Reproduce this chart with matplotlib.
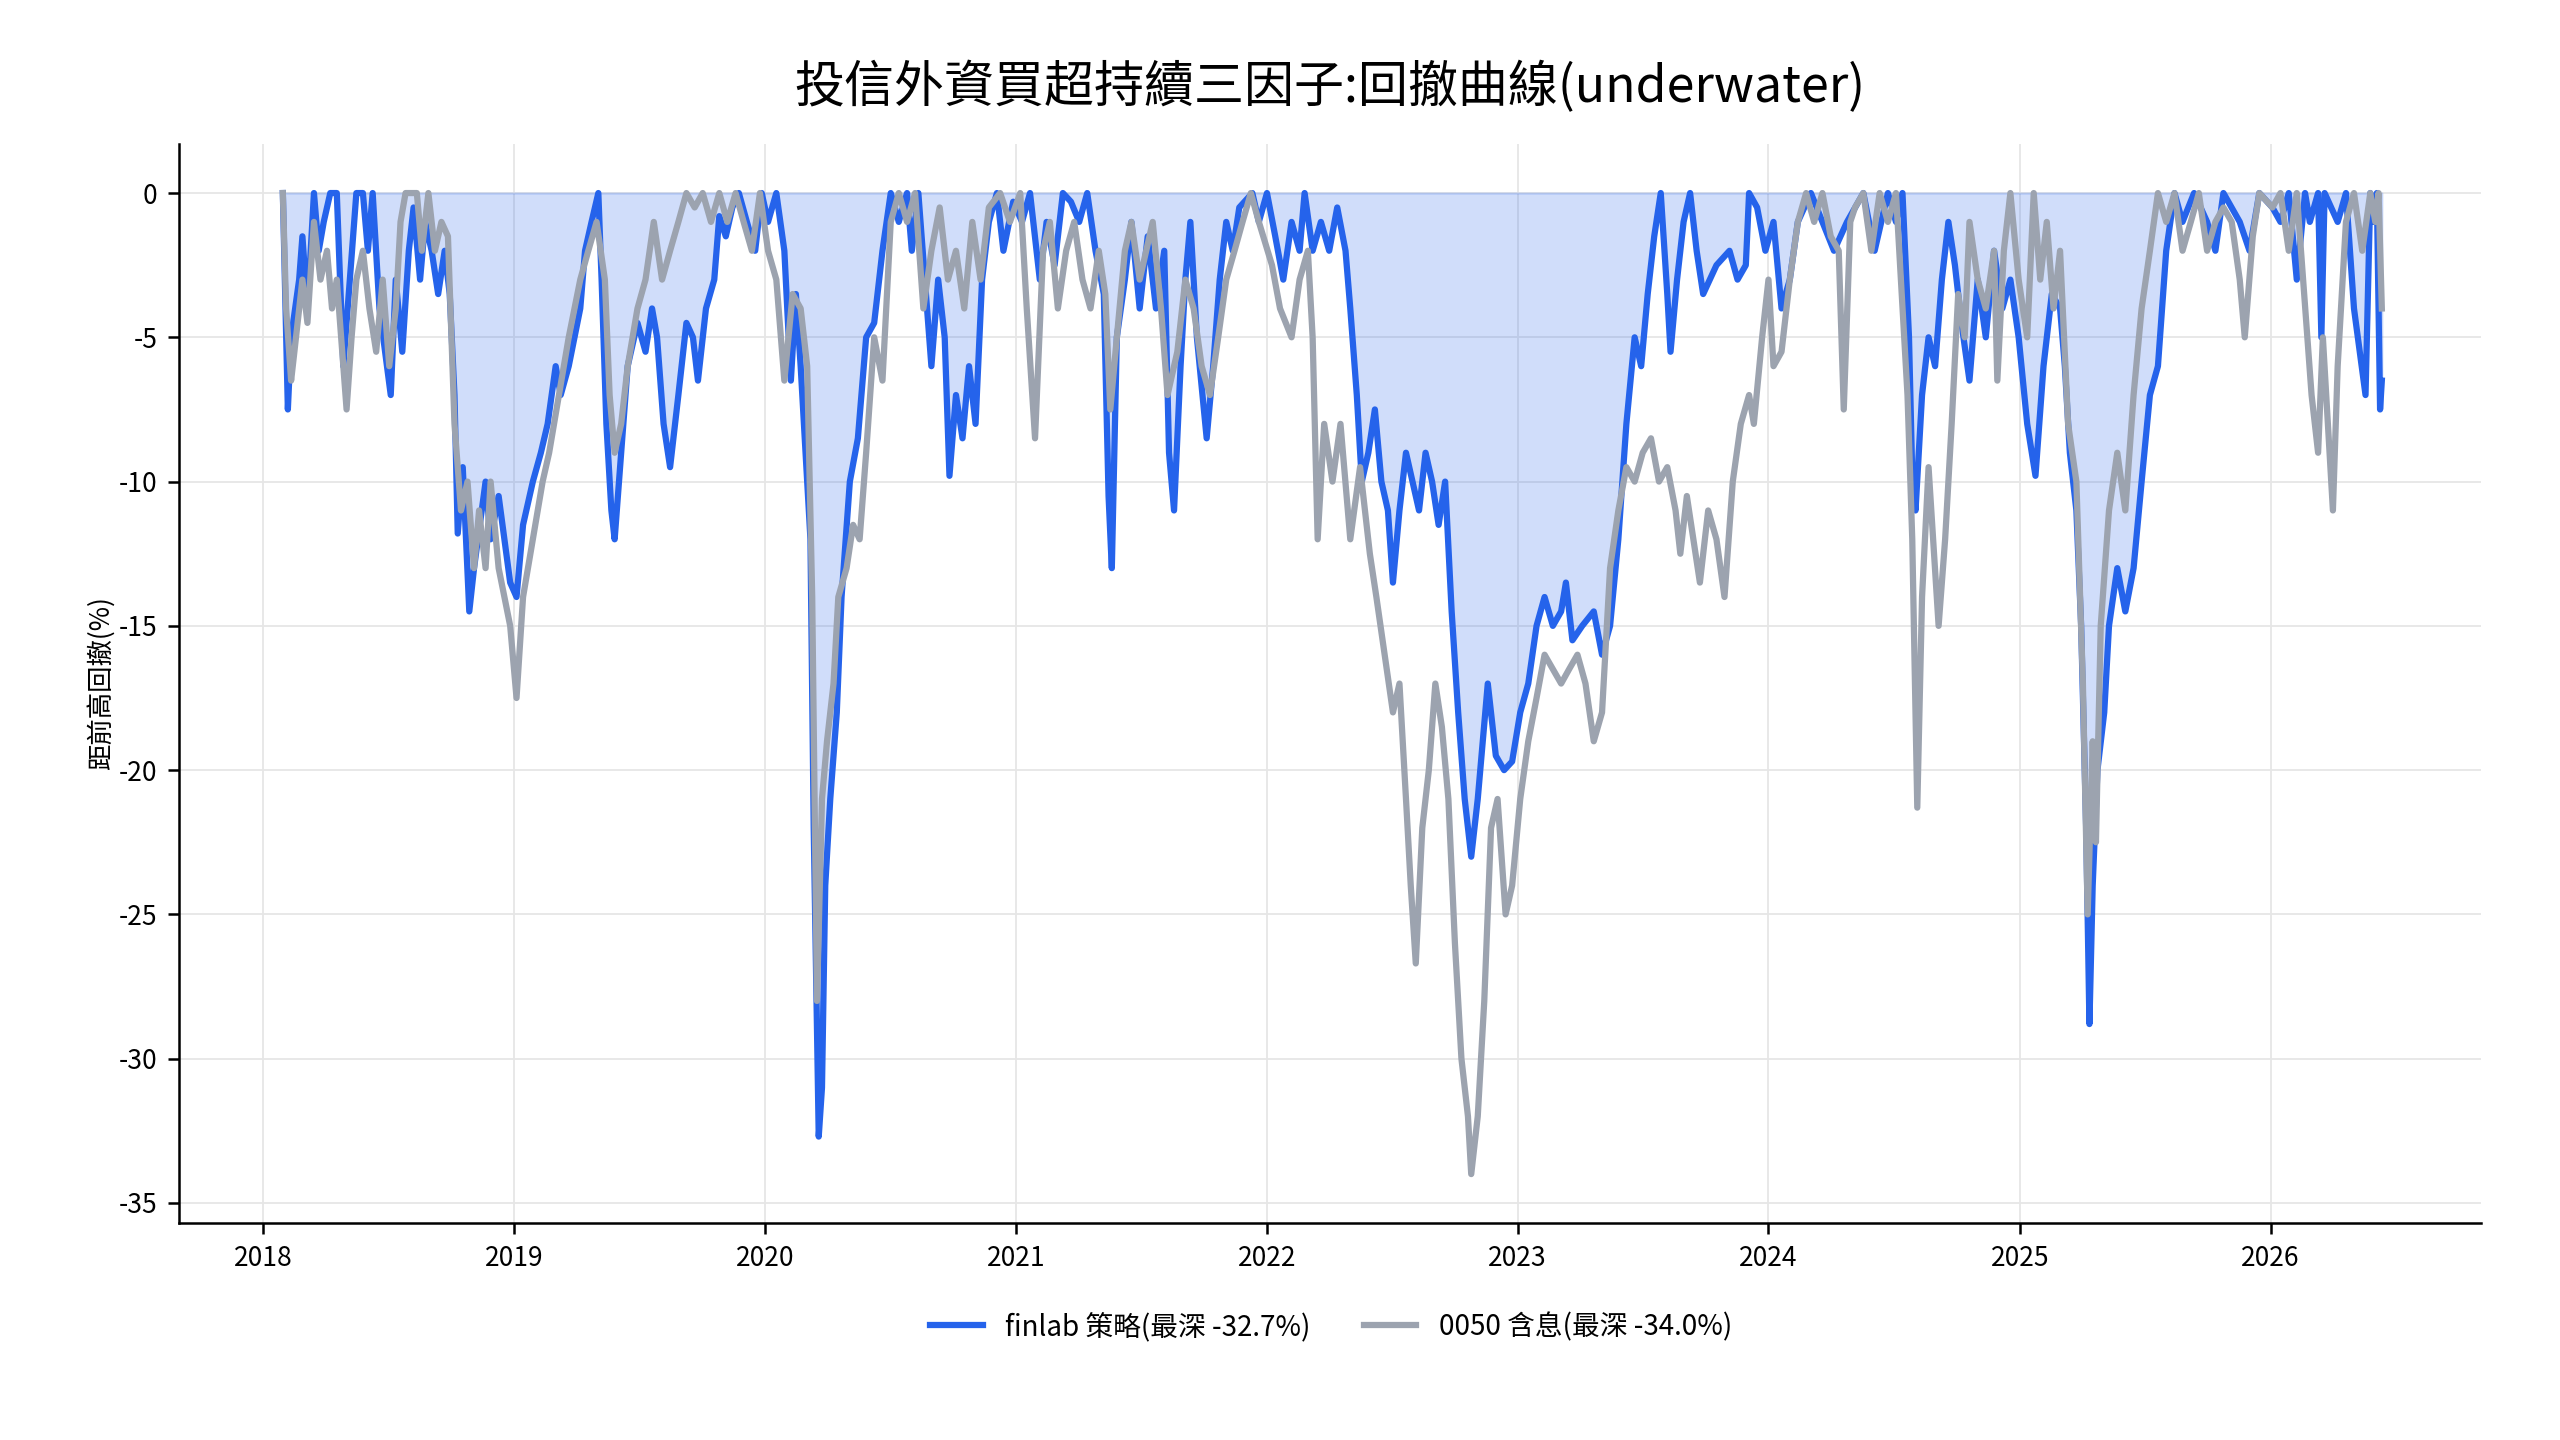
import numpy as np
import pandas as pd
import matplotlib
matplotlib.use("Agg")
import matplotlib.pyplot as plt
import matplotlib.dates as mdates

plt.rcParams['font.family'] = ['Noto Sans CJK TC', 'DejaVu Sans']

# finlab strategy drawdown (%) at decimal-year positions
finlab_t = [2018.078, 2018.098, 2018.111, 2018.143, 2018.156, 2018.176, 2018.202, 2018.221, 2018.241, 2018.267,
            2018.293, 2018.319, 2018.345, 2018.371, 2018.397, 2018.417, 2018.436, 2018.463, 2018.508, 2018.528,
            2018.554, 2018.580, 2018.599, 2018.625, 2018.645, 2018.671, 2018.697, 2018.723, 2018.743, 2018.762,
            2018.775, 2018.795, 2018.821, 2018.840, 2018.886, 2018.906, 2018.938, 2018.984, 2019.010, 2019.036,
            2019.075, 2019.107, 2019.134, 2019.166, 2019.186, 2019.218, 2019.264, 2019.283, 2019.309, 2019.336,
            2019.349, 2019.368, 2019.388, 2019.401, 2019.427, 2019.453, 2019.492, 2019.524, 2019.550, 2019.570,
            2019.596, 2019.622, 2019.655, 2019.687, 2019.713, 2019.733, 2019.765, 2019.798, 2019.818, 2019.844,
            2019.870, 2019.896, 2019.928, 2019.961, 2019.987, 2020.013, 2020.046, 2020.078, 2020.104, 2020.124,
            2020.143, 2020.169, 2020.182, 2020.195, 2020.215, 2020.228, 2020.241, 2020.261, 2020.287, 2020.306,
            2020.339, 2020.371, 2020.404, 2020.436, 2020.469, 2020.502, 2020.534, 2020.567, 2020.586, 2020.612,
            2020.638, 2020.664, 2020.691, 2020.717, 2020.736, 2020.762, 2020.788, 2020.814, 2020.840, 2020.866,
            2020.893, 2020.925, 2020.951, 2020.990, 2021.023, 2021.055, 2021.094, 2021.121, 2021.153, 2021.186,
            2021.218, 2021.251, 2021.283, 2021.316, 2021.349, 2021.368, 2021.381, 2021.401, 2021.433, 2021.459,
            2021.492, 2021.524, 2021.557, 2021.590, 2021.609, 2021.629, 2021.655, 2021.674, 2021.694, 2021.720,
            2021.759, 2021.785, 2021.811, 2021.837, 2021.863, 2021.889, 2021.941, 2021.967, 2022.000, 2022.033,
            2022.065, 2022.098, 2022.130, 2022.150, 2022.182, 2022.215, 2022.248, 2022.280, 2022.313, 2022.332,
            2022.358, 2022.378, 2022.404, 2022.430, 2022.456, 2022.482, 2022.502, 2022.528, 2022.554, 2022.580,
            2022.606, 2022.632, 2022.658, 2022.684, 2022.710, 2022.736, 2022.762, 2022.788, 2022.814, 2022.840,
            2022.880, 2022.912, 2022.945, 2022.977, 2023.010, 2023.042, 2023.075, 2023.107, 2023.140, 2023.173,
            2023.192, 2023.218, 2023.257, 2023.303, 2023.336, 2023.368, 2023.401, 2023.433, 2023.466, 2023.492,
            2023.518, 2023.544, 2023.570, 2023.596, 2023.609, 2023.635, 2023.661, 2023.687, 2023.713, 2023.739,
            2023.792, 2023.844, 2023.876, 2023.909, 2023.922, 2023.954, 2023.987, 2024.020, 2024.052, 2024.085,
            2024.117, 2024.169, 2024.215, 2024.261, 2024.313, 2024.378, 2024.423, 2024.476, 2024.508, 2024.534,
            2024.560, 2024.573, 2024.586, 2024.612, 2024.638, 2024.664, 2024.691, 2024.717, 2024.743, 2024.769,
            2024.801, 2024.834, 2024.866, 2024.899, 2024.932, 2024.964, 2024.997, 2025.029, 2025.062, 2025.094,
            2025.127, 2025.160, 2025.179, 2025.199, 2025.225, 2025.244, 2025.264, 2025.277, 2025.290, 2025.309,
            2025.336, 2025.355, 2025.388, 2025.420, 2025.453, 2025.485, 2025.518, 2025.550, 2025.583, 2025.616,
            2025.648, 2025.694, 2025.746, 2025.779, 2025.811, 2025.876, 2025.915, 2025.954, 2026.007, 2026.039,
            2026.072, 2026.104, 2026.137, 2026.156, 2026.189, 2026.202, 2026.215, 2026.267, 2026.300, 2026.332,
            2026.378, 2026.397, 2026.410, 2026.423, 2026.436, 2026.443]
finlab_dd = [0, -7.5, -5, -3, -1.5, -4, 0, -2, -1, 0,
             0, -6, -3, 0, 0, -2, 0, -4, -7, -3,
             -5.5, -2, -0.5, -3, -1, -2, -3.5, -2, -3.5, -7,
             -11.8, -9.5, -14.5, -13, -10, -12, -10.5, -13.5, -14, -11.5,
             -10, -9, -8, -6, -7, -6, -4, -2, -1, 0,
             -3, -8, -11, -12, -9, -6, -4.5, -5.5, -4, -5,
             -8, -9.5, -7, -4.5, -5, -6.5, -4, -3, -0.8, -1.5,
             -0.5, 0, -1, -2, 0, -1, 0, -2, -6.5, -3.5,
             -6, -10, -12, -22, -32.7, -31, -24, -21, -18, -14,
             -10, -8.5, -5, -4.5, -2, 0, -1, 0, -2, 0,
             -3, -6, -3, -5, -9.8, -7, -8.5, -6, -8, -3,
             -1, 0, -2, -0.3, -1, 0, -3, -1, -2.5, 0,
             -0.3, -1, 0, -2, -3.5, -10.5, -13, -5, -3, -1,
             -4, -1.5, -4, -2, -9, -11, -6, -3, -1, -5,
             -8.5, -6, -3, -1, -2, -0.5, 0, -1, 0, -1.5,
             -3, -1, -2, 0, -2, -1, -2, -0.5, -2, -4,
             -7, -10, -9, -7.5, -10, -11, -13.5, -11, -9, -10,
             -11, -9, -10, -11.5, -10, -14.5, -18, -21, -23, -21,
             -17, -19.5, -20, -19.7, -18, -17, -15, -14, -15, -14.5,
             -13.5, -15.5, -15, -14.5, -16, -15, -12, -8, -5, -6,
             -3.5, -1.5, 0, -3.5, -5.5, -3, -1, 0, -2, -3.5,
             -2.5, -2, -3, -2.5, 0, -0.5, -2, -1, -4, -3,
             -1, 0, -1, -2, -1, 0, -2, 0, -1, 0,
             -5, -9.8, -11, -7, -5, -6, -3, -1, -2.5, -4.5,
             -6.5, -3, -5, -2, -4, -3, -5, -8, -9.8, -6,
             -3.5, -4, -6, -9, -11, -15, -22, -28.8, -24, -20,
             -18, -15, -13, -14.5, -13, -10, -7, -6, -2, 0,
             -1, 0, -1, -2, 0, -1, -2, 0, -0.5, -1,
             0, -3, 0, -1, 0, -5, 0, -1, 0, -4,
             -7, 0, -1, 0, -7.5, -6.5]

# 0050 (dividends reinvested) drawdown (%)
etf_t = [2018.078, 2018.091, 2018.111, 2018.124, 2018.156, 2018.176, 2018.202, 2018.228, 2018.254, 2018.274,
         2018.293, 2018.319, 2018.332, 2018.352, 2018.371, 2018.397, 2018.423, 2018.450, 2018.476, 2018.502,
         2018.528, 2018.547, 2018.567, 2018.612, 2018.632, 2018.658, 2018.684, 2018.710, 2018.736, 2018.762,
         2018.788, 2018.814, 2018.840, 2018.860, 2018.886, 2018.906, 2018.938, 2018.984, 2019.010, 2019.036,
         2019.075, 2019.114, 2019.140, 2019.179, 2019.218, 2019.264, 2019.296, 2019.329, 2019.362, 2019.381,
         2019.401, 2019.427, 2019.453, 2019.492, 2019.524, 2019.557, 2019.590, 2019.622, 2019.655, 2019.687,
         2019.720, 2019.752, 2019.785, 2019.818, 2019.850, 2019.883, 2019.915, 2019.948, 2019.980, 2020.013,
         2020.046, 2020.078, 2020.111, 2020.143, 2020.169, 2020.189, 2020.208, 2020.228, 2020.248, 2020.274,
         2020.293, 2020.326, 2020.352, 2020.378, 2020.404, 2020.436, 2020.469, 2020.502, 2020.534, 2020.567,
         2020.599, 2020.632, 2020.664, 2020.697, 2020.730, 2020.762, 2020.795, 2020.827, 2020.860, 2020.893,
         2020.938, 2020.977, 2021.016, 2021.042, 2021.075, 2021.107, 2021.134, 2021.166, 2021.199, 2021.231,
         2021.264, 2021.296, 2021.329, 2021.355, 2021.375, 2021.401, 2021.433, 2021.459, 2021.492, 2021.518,
         2021.544, 2021.577, 2021.603, 2021.642, 2021.674, 2021.707, 2021.739, 2021.772, 2021.805, 2021.837,
         2021.870, 2021.902, 2021.935, 2021.967, 2022.020, 2022.052, 2022.098, 2022.130, 2022.163, 2022.182,
         2022.202, 2022.228, 2022.261, 2022.293, 2022.332, 2022.371, 2022.410, 2022.436, 2022.469, 2022.502,
         2022.528, 2022.554, 2022.573, 2022.593, 2022.619, 2022.645, 2022.671, 2022.697, 2022.723, 2022.749,
         2022.775, 2022.801, 2022.814, 2022.840, 2022.866, 2022.893, 2022.919, 2022.951, 2022.977, 2023.010,
         2023.042, 2023.075, 2023.107, 2023.140, 2023.173, 2023.205, 2023.238, 2023.270, 2023.303, 2023.336,
         2023.368, 2023.401, 2023.433, 2023.466, 2023.498, 2023.531, 2023.563, 2023.596, 2023.629, 2023.648,
         2023.674, 2023.700, 2023.726, 2023.759, 2023.792, 2023.824, 2023.857, 2023.889, 2023.922, 2023.941,
         2023.974, 2024.000, 2024.020, 2024.052, 2024.085, 2024.117, 2024.150, 2024.182, 2024.215, 2024.248,
         2024.280, 2024.300, 2024.326, 2024.345, 2024.378, 2024.410, 2024.443, 2024.476, 2024.508, 2024.554,
         2024.573, 2024.593, 2024.612, 2024.638, 2024.678, 2024.704, 2024.730, 2024.756, 2024.782, 2024.801,
         2024.834, 2024.866, 2024.899, 2024.912, 2024.938, 2024.964, 2024.997, 2025.029, 2025.055, 2025.081,
         2025.107, 2025.134, 2025.160, 2025.192, 2025.225, 2025.251, 2025.270, 2025.290, 2025.303, 2025.322,
         2025.355, 2025.388, 2025.420, 2025.453, 2025.485, 2025.518, 2025.550, 2025.583, 2025.616, 2025.648,
         2025.681, 2025.713, 2025.746, 2025.779, 2025.811, 2025.844, 2025.876, 2025.896, 2025.928, 2025.954,
         2026.007, 2026.039, 2026.072, 2026.104, 2026.163, 2026.189, 2026.208, 2026.248, 2026.267, 2026.300,
         2026.332, 2026.365, 2026.397, 2026.417, 2026.430, 2026.443]
etf_dd = [0, -4, -6.5, -5.5, -3, -4.5, -1, -3, -2, -4,
          -3, -6, -7.5, -5, -3, -2, -4, -5.5, -3, -6,
          -4, -1, 0, 0, -2, 0, -2, -1, -1.5, -8,
          -11, -10, -13, -11, -13, -10, -13, -15, -17.5, -14,
          -12, -10, -9, -7, -5, -3, -2, -1, -3, -7,
          -9, -8, -6, -4, -3, -1, -3, -2, -1, 0,
          -0.5, 0, -1, 0, -1, 0, -1, -2, 0, -2,
          -3, -6.5, -3.5, -4, -6, -14, -28, -21, -19, -17,
          -14, -13, -11.5, -12, -9, -5, -6.5, -1, 0, -1,
          0, -4, -2, -0.5, -3, -2, -4, -1, -3, -0.5,
          0, -1, 0, -4, -8.5, -2, -1, -4, -2, -1,
          -3, -4, -2, -3.5, -7.5, -5, -2, -1, -3, -2,
          -1, -4, -7, -5.5, -3, -4, -6, -7, -5, -3,
          -2, -1, 0, -1, -2.5, -4, -5, -3, -2, -5,
          -12, -8, -10, -8, -12, -9.5, -12.5, -14, -16, -18,
          -17, -21, -24, -26.7, -22, -20, -17, -18.5, -21, -26,
          -30, -32, -34, -32, -28, -22, -21, -25, -24, -21,
          -19, -17.5, -16, -16.5, -17, -16.5, -16, -17, -19, -18,
          -13, -11, -9.5, -10, -9, -8.5, -10, -9.5, -11, -12.5,
          -10.5, -12, -13.5, -11, -12, -14, -10, -8, -7, -8,
          -5, -3, -6, -5.5, -3, -1, 0, -1, 0, -1.5,
          -2, -7.5, -1, -0.5, 0, -2, 0, -1, 0, -7,
          -12, -21.3, -14, -9.5, -15, -12, -8, -3.5, -5, -1,
          -3, -4, -2, -6.5, -2, 0, -3, -5, 0, -3,
          -1, -4, -2, -8, -10, -17, -25, -19, -22.5, -15,
          -11, -9, -11, -7, -4, -2, 0, -1, 0, -2,
          -1, 0, -2, -1, -0.5, -1, -3, -5, -1.5, 0,
          -0.5, 0, -2, 0, -7, -9, -5, -11, -6, -1,
          0, -2, 0, -1, 0, -4]

labels = ['finlab 策略(最深 -32.7%)', '0050 含息(最深 -34.0%)']
title = '投信外資買超持續三因子:回撤曲線(underwater)'
ylabel = '距前高回撤(%)'


def to_dates(years):
    out = []
    for y in years:
        yr = int(np.floor(y))
        out.append(pd.Timestamp(year=yr, month=1, day=1) + pd.Timedelta(days=(y - yr) * 365.25))
    return pd.DatetimeIndex(out)


blue = '#2563EB'
gray = '#9CA3AF'

fx = to_dates(finlab_t)
ex = to_dates(etf_t)

fig = plt.figure(figsize=(25.6, 14.4), dpi=100)
ax = fig.add_axes([0.0701, 0.151, 0.899, 0.749])

ax.fill_between(fx, finlab_dd, 0, color=blue, alpha=0.21, linewidth=1.5, zorder=1)
ax.plot(fx, finlab_dd, color=blue, lw=4.5, label=labels[0], zorder=2)
ax.plot(ex, etf_dd, color=gray, lw=4.5, label=labels[1], zorder=3)

ax.set_ylim(-35.68, 1.7)
ax.set_xlim(pd.Timestamp('2017-09-01'), pd.Timestamp('2026-11-03'))
ax.set_yticks([0, -5, -10, -15, -20, -25, -30, -35])
ax.set_yticklabels(['0', '-5', '-10', '-15', '-20', '-25', '-30', '-35'])
ax.xaxis.set_major_locator(mdates.YearLocator())
ax.xaxis.set_major_formatter(mdates.DateFormatter('%Y'))

ax.grid(True, color='#E6E6E6', lw=1.3)
ax.set_axisbelow(True)
for s in ['top', 'right']:
    ax.spines[s].set_visible(False)
for s in ['left', 'bottom']:
    ax.spines[s].set_linewidth(1.8)
ax.tick_params(labelsize=19, width=1.8, length=8, pad=8)

ax.set_title(title, fontsize=36, pad=30)
ax.set_ylabel(ylabel, fontsize=19, labelpad=3)

fig.legend(loc='center', bbox_to_anchor=(0.52, 0.0785), ncol=2, frameon=False,
           fontsize=20, handlelength=1.9, columnspacing=1.9)

fig.savefig('out.png', dpi=100)
